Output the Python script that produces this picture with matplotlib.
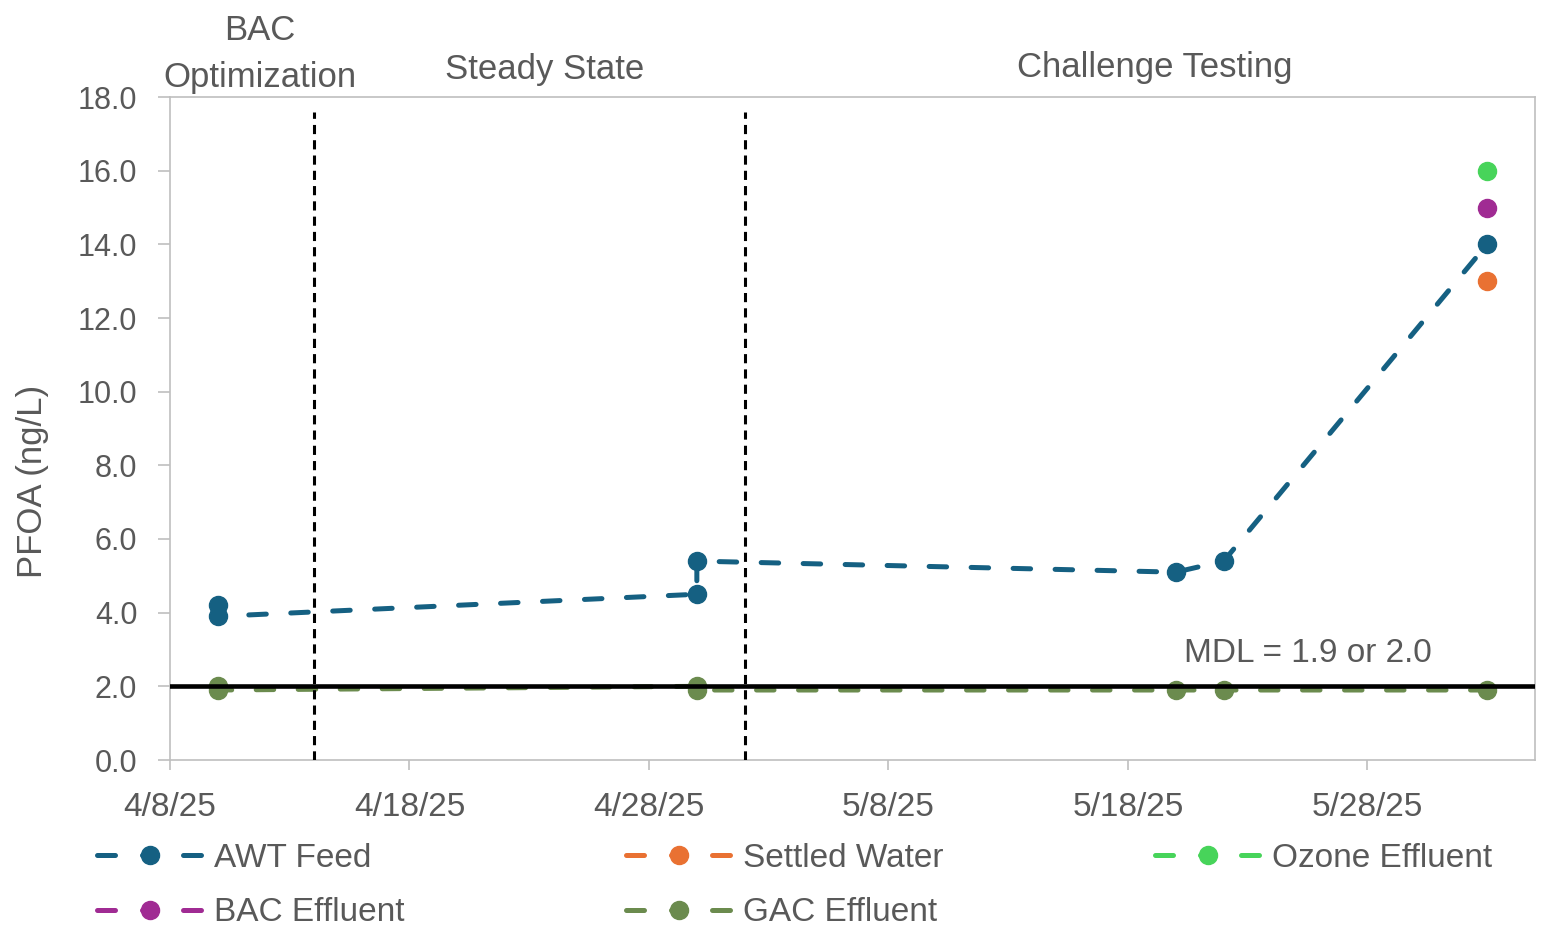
import datetime as dt
import matplotlib
matplotlib.use("Agg")
import matplotlib.pyplot as plt
from matplotlib.lines import Line2D
from matplotlib.ticker import FuncFormatter, MultipleLocator

plt.rcParams['font.family'] = ['Liberation Sans', 'DejaVu Sans']

D = dt.datetime

# data
awt_dates = [D(2025, 4, 10), D(2025, 4, 10), D(2025, 4, 30), D(2025, 4, 30),
             D(2025, 5, 20), D(2025, 5, 22), D(2025, 6, 2)]
awt_vals = [4.2, 3.9, 4.5, 5.4, 5.1, 5.4, 14.0]

settled_dates = [D(2025, 6, 2)]
settled_vals = [13.0]

ozone_dates = [D(2025, 6, 2)]
ozone_vals = [16.0]

bac_dates = [D(2025, 6, 2)]
bac_vals = [15.0]

gac_dates = [D(2025, 4, 10), D(2025, 4, 10), D(2025, 4, 30), D(2025, 4, 30),
             D(2025, 5, 20), D(2025, 5, 22), D(2025, 6, 2)]
gac_vals = [2.0, 1.9, 2.0, 1.9, 1.9, 1.9, 1.9]

phase_breaks = [D(2025, 4, 14), D(2025, 5, 2)]
mdl = 2.0

series_names = ["AWT Feed", "Settled Water", "Ozone Effluent", "BAC Effluent", "GAC Effluent"]
colors = {"AWT Feed": "#156082", "Settled Water": "#E97132", "Ozone Effluent": "#47D45A",
          "BAC Effluent": "#A02B93", "GAC Effluent": "#6B8B4E"}
series = {"AWT Feed": (awt_dates, awt_vals), "Settled Water": (settled_dates, settled_vals),
          "Ozone Effluent": (ozone_dates, ozone_vals), "BAC Effluent": (bac_dates, bac_vals),
          "GAC Effluent": (gac_dates, gac_vals)}

W, H = 1552, 939
fig = plt.figure(figsize=(W / 100, H / 100), dpi=100)
ax = fig.add_axes([170 / W, 1 - 760 / H, (1535 - 170) / W, (760 - 97) / H])

FS = 24
gray_txt = "#595959"
gray_ax = "#BFBFBF"

for name in series_names:
    x, y = series[name]
    ax.plot(x, y, color=colors[name], lw=3.6, dashes=(3.5, 4.9), dash_capstyle='round',
            marker='o', ms=13, zorder=3)

# MDL line and phase dividers
ax.axhline(mdl, color='black', lw=3.3, zorder=4)
ax.vlines(phase_breaks, 0, 17.6, colors='black', lw=2.2, linestyles=(0, (3, 2)), zorder=5)
ax.text(D(2025, 5, 25, 12), 2.88, "MDL = 1.9 or 2.0", ha='center', va='center',
        fontsize=FS, color=gray_txt)

ax.set_xlim(D(2025, 4, 8), D(2025, 6, 4))
ax.set_ylim(0, 18)
ax.yaxis.set_major_locator(MultipleLocator(2))
ax.yaxis.set_major_formatter(FuncFormatter(lambda v, p: f"{v:.1f}"))
ticks = [D(2025, 4, 8) + dt.timedelta(days=10 * i) for i in range(6)]
ax.set_xticks(ticks)
ax.set_xticklabels([f"{t.month}/{t.day}/{t.year % 100}" for t in ticks])

for sp in ax.spines.values():
    sp.set_color(gray_ax)
    sp.set_linewidth(1.2)
ax.tick_params(axis='y', length=8.5, width=1.2, color=gray_ax, labelsize=22,
               labelcolor=gray_txt, pad=15)
ax.tick_params(axis='x', length=7, width=1.2, color=gray_ax, labelsize=24,
               labelcolor=gray_txt, pad=16)

fig.text(33 / W, 1 - 481 / H, "PFOA (ng/L)", rotation=90, ha='center', va='center',
         fontsize=25, color=gray_txt)

# phase labels
fig.text(260 / W, 1 - 54 / H, "BAC\nOptimization", ha='center', va='center',
         fontsize=25, color=gray_txt, linespacing=1.55)
fig.text(545 / W, 1 - 70 / H, "Steady State", ha='center', va='center',
         fontsize=25, color=gray_txt)
fig.text(1155 / W, 1 - 68 / H, "Challenge Testing", ha='center', va='center',
         fontsize=25, color=gray_txt)

# legend, three columns laid out like the original
def proxy(name):
    return Line2D([], [], color=colors[name], lw=3.6, dashes=(3.6, 5.4, 2.8, 5.4, 3.6, 20),
                  dash_capstyle='round', marker='o', ms=13)

legend_cols = [["AWT Feed", "BAC Effluent"], ["Settled Water", "GAC Effluent"], ["Ozone Effluent"]]
legend_x = [97, 626, 1155]
for names, lx in zip(legend_cols, legend_x):
    leg = fig.legend([proxy(n) for n in names], names, loc='upper left',
                     bbox_to_anchor=(lx / W, 1 - 843 / H), frameon=False, fontsize=FS,
                     handlelength=3.2, handletextpad=0.3, labelspacing=0.7,
                     borderpad=0, borderaxespad=0, numpoints=1)
    for t in leg.get_texts():
        t.set_color(gray_txt)

fig.savefig("out.png", dpi=100)
